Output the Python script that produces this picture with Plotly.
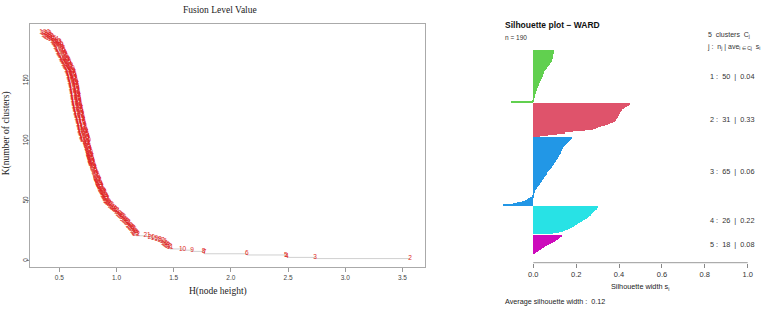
import plotly.graph_objects as go

W, H = 763, 310

# ---------------- Left chart data: fusion levels ----------------
K_clusters = list(range(190, 1, -1))  # number of clusters, 190 .. 2
H_height = [
    0.372, 0.383, 0.390, 0.401, 0.412, 0.428, 0.446, 0.466,               # 190-183
    0.474, 0.478, 0.486, 0.490, 0.493, 0.501, 0.505, 0.508, 0.515, 0.518, 0.524,  # 182-172
    0.530, 0.533, 0.541, 0.545, 0.548, 0.556, 0.559, 0.563, 0.571, 0.574, 0.578,
    0.586, 0.589, 0.593,                                                  # 171-158
    0.597, 0.601, 0.602, 0.606, 0.608, 0.610, 0.614, 0.616, 0.618, 0.622, 0.624,  # 157-147
    0.625, 0.628, 0.629, 0.630, 0.633, 0.634, 0.635, 0.638, 0.639, 0.641, 0.642,
    0.643, 0.646, 0.647, 0.649, 0.650,                                    # 146-131
    0.653, 0.654, 0.657, 0.660, 0.661, 0.664, 0.667, 0.668, 0.671, 0.674, 0.675,
    0.677, 0.681, 0.682, 0.684, 0.688, 0.689, 0.691, 0.695, 0.696, 0.698, 0.702,
    0.703,                                                                # 130-108
    0.707, 0.709, 0.713, 0.717, 0.718, 0.723, 0.727, 0.728, 0.732, 0.737, 0.738,
    0.742, 0.746, 0.748, 0.752, 0.756,                                    # 107-92
    0.757, 0.761, 0.763, 0.765, 0.770, 0.771, 0.773, 0.778, 0.779, 0.782, 0.786,
    0.787, 0.791, 0.794, 0.795, 0.799,                                    # 91-76
    0.804, 0.806, 0.811, 0.816, 0.818, 0.823, 0.829, 0.831, 0.836, 0.841, 0.843,
    0.849, 0.851, 0.856,                                                  # 75-62
    0.862, 0.865, 0.871, 0.877, 0.880, 0.887, 0.890, 0.897, 0.900, 0.907, 0.910,
    0.917, 0.920, 0.927,                                                  # 61-48
    0.936, 0.949, 0.958, 0.971, 0.979, 0.992, 1.001, 1.014,               # 47-40
    1.022, 1.034, 1.042, 1.054, 1.061, 1.073, 1.081, 1.093,               # 39-32
    1.099, 1.110, 1.117, 1.127, 1.134, 1.144, 1.151, 1.160, 1.166, 1.172, # 31-22
    1.267, 1.305, 1.332, 1.362, 1.388, 1.408, 1.418, 1.430, 1.440, 1.452, # 21-12
    1.467, 1.578, 1.660, 1.762, 1.770, 2.140, 2.480, 2.490, 2.735, 3.566, # 11-2
]
assert len(H_height) == len(K_clusters)

x_ticks_left = [0.5, 1.0, 1.5, 2.0, 2.5, 3.0, 3.5]
y_ticks_left = [0, 50, 100, 150]

# ---------------- Right chart data: silhouette widths ----------------
sil_c1 = [0.097, 0.096, 0.095, 0.094, 0.093, 0.092, 0.091, 0.090, 0.089, 0.088,
          0.086, 0.083, 0.080, 0.077, 0.073, 0.070, 0.066, 0.062, 0.058, 0.055,
          0.052, 0.050, 0.047, 0.045, 0.043, 0.041, 0.039, 0.037, 0.034, 0.031,
          0.030, 0.028, 0.026, 0.025, 0.023, 0.021, 0.019, 0.018, 0.016, 0.014,
          0.012, 0.010, 0.008, 0.005, 0.004, 0.003, 0.002, 0.001, -0.005, -0.105]
sil_c2 = [0.451, 0.446, 0.437, 0.430, 0.421, 0.415, 0.412, 0.410, 0.405, 0.402,
          0.399, 0.397, 0.395, 0.392, 0.388, 0.384, 0.381, 0.372, 0.360, 0.350,
          0.335, 0.318, 0.300, 0.292, 0.280, 0.240, 0.186, 0.150, 0.109, 0.070, 0.030]
sil_c3 = [0.179, 0.176, 0.172, 0.168, 0.163, 0.158, 0.153, 0.149, 0.145, 0.140,
          0.137, 0.135, 0.132, 0.130, 0.127, 0.125, 0.122, 0.119, 0.116, 0.113,
          0.110, 0.107, 0.104, 0.101, 0.098, 0.095, 0.092, 0.089, 0.086, 0.082,
          0.078, 0.074, 0.070, 0.066, 0.062, 0.059, 0.055, 0.052, 0.049, 0.045,
          0.042, 0.039, 0.036, 0.032, 0.029, 0.025, 0.022, 0.019, 0.016, 0.013,
          0.010, 0.008, 0.005, 0.003, 0.001, -0.002, -0.008, -0.015, -0.023, -0.031,
          -0.039, -0.055, -0.077, -0.095, -0.143]
sil_c4 = [0.303, 0.299, 0.295, 0.290, 0.285, 0.280, 0.274, 0.268, 0.262, 0.256,
          0.250, 0.242, 0.234, 0.226, 0.218, 0.210, 0.202, 0.195, 0.188, 0.180,
          0.170, 0.160, 0.150, 0.138, 0.120, 0.093]
sil_c5 = [0.132, 0.126, 0.120, 0.114, 0.108, 0.101, 0.092, 0.082, 0.072, 0.064,
          0.056, 0.048, 0.041, 0.034, 0.026, 0.020, 0.014, 0.008]
clusters = [sil_c1, sil_c2, sil_c3, sil_c4, sil_c5]
cluster_sizes = [50, 31, 65, 26, 18]
cluster_avg = ["0.04", "0.33", "0.06", "0.22", "0.08"]
cluster_colors = ["#61D04F", "#DF536B", "#2297E6", "#28E2E5", "#CD0BBC"]
avg_width = "0.12"
x_ticks_right = [0.0, 0.2, 0.4, 0.6, 0.8, 1.0]


def px(x):
    return x / W


def py(y):
    return 1 - y / H


fig = go.Figure()

# ---- left: step line + number labels
fig.add_trace(go.Scatter(
    x=H_height, y=K_clusters, mode="lines", line=dict(color="#d0d0d0", width=1, shape="vh"),
    xaxis="x", yaxis="y", hoverinfo="skip", showlegend=False))
fig.add_trace(go.Scatter(
    x=H_height, y=K_clusters, mode="text", text=[str(k) for k in K_clusters],
    textfont=dict(family="Liberation Sans", size=6.5, color="#e01f22"),
    xaxis="x", yaxis="y", showlegend=False, cliponaxis=False))

# ---- right: silhouette bars
slot = 0
centers = []
for ci, vals in enumerate(clusters):
    pos = list(range(slot, slot + len(vals)))
    centers.append((pos[0] + pos[-1]) / 2)
    fig.add_trace(go.Bar(
        x=vals, y=pos, orientation="h", width=1.0,
        marker=dict(color=cluster_colors[ci], line=dict(width=0)),
        xaxis="x2", yaxis="y2", showlegend=False))
    slot += len(vals) + 1

L_x0, L_x1, L_y0, L_y1 = 30, 425, 24, 267
tickfont_l = dict(family="Liberation Sans", size=6.5, color="#444444")

R_top, R_bot = 50, 262.7
slot_px = (254 - 50) / 194.0
n_slots = (R_bot - R_top) / slot_px

fig.update_layout(
    width=W, height=H, margin=dict(l=0, r=0, t=0, b=0),
    paper_bgcolor="white", plot_bgcolor="white",
    bargap=0, barmode="overlay",
    xaxis=dict(domain=[px(L_x0), px(L_x1)], range=[0.244, 3.697],
               tickvals=x_ticks_left, ticktext=[f"{v:.1f}" for v in x_ticks_left],
               ticks="outside", ticklen=4, tickcolor="#999999", tickfont=tickfont_l,
               showline=True, linecolor="#aaaaaa", linewidth=1, mirror=True,
               showgrid=False, zeroline=False, anchor="y"),
    yaxis=dict(domain=[py(L_y1), py(L_y0)], range=[-5.0, 197.2],
               tickvals=y_ticks_left, ticktext=[str(v) for v in y_ticks_left],
               tickangle=-90, ticks="outside", ticklen=3, tickcolor="#999999",
               tickfont=tickfont_l, ticklabelstandoff=-5,
               showline=True, linecolor="#aaaaaa", linewidth=1, mirror=True,
               showgrid=False, zeroline=False, anchor="x"),
    xaxis2=dict(domain=[px(500), px(760)], range=[(500 - 533.3) / 214.4, (760 - 533.3) / 214.4],
                tickvals=x_ticks_right, ticktext=[f"{v:.1f}" for v in x_ticks_right],
                ticks="outside", ticklen=4, tickcolor="#888888",
                tickfont=dict(family="Liberation Sans", size=7.5, color="#333333"),
                showline=False, showgrid=False, zeroline=False, anchor="y2"),
    yaxis2=dict(domain=[py(R_bot), py(R_top)], range=[n_slots - 0.5, -0.5],
                visible=False, anchor="x2"),
)

# axis line of the silhouette plot (from 0 to 1)
fig.add_shape(type="line", xref="x2", yref="paper", x0=0, x1=1, y0=py(R_bot), y1=py(R_bot),
              line=dict(color="#999999", width=1))

serif = "Liberation Serif"
sans = "Liberation Sans"
ann = [
    dict(text="Fusion Level Value", x=px(220), y=py(10), font=dict(family=serif, size=9.5, color="#222")),
    dict(text="H(node height)", x=px(218), y=py(291.5), font=dict(family=serif, size=9.5, color="#222")),
    dict(text="K(number of clusters)", x=px(7.3), y=py(133), textangle=-90,
         font=dict(family=serif, size=9.5, color="#222")),
    dict(text="<b>Silhouette plot \u2212 WARD</b>", x=px(502.7), y=py(25), xanchor="left",
         font=dict(family=sans, size=8.5, color="#111")),
    dict(text="n = 190", x=px(503), y=py(37.7), xanchor="left",
         font=dict(family=sans, size=6.5, color="#333")),
    dict(text="5\u00a0 clusters\u00a0 C<sub>j</sub>", x=px(706), y=py(35.5), xanchor="left",
         font=dict(family=sans, size=7, color="#333")),
    dict(text="j :\u00a0 n<sub>j</sub> | ave<sub>i \u2208 Cj</sub>\u00a0 s<sub>i</sub>", x=px(705), y=py(47),
         xanchor="left", font=dict(family=sans, size=7, color="#333")),
    dict(text="Silhouette width s<sub>i</sub>", x=px(640), y=py(286.7),
         font=dict(family=sans, size=7.3, color="#222")),
    dict(text=f"Average silhouette width :\u00a0 {avg_width}", x=px(502.7), y=py(301.7), xanchor="left",
         font=dict(family=sans, size=7.2, color="#222")),
]
for a in ann:
    base = dict(xref="paper", yref="paper", showarrow=False, xanchor="center", yanchor="middle")
    base.update(a)
    fig.add_annotation(**base)

for j in range(5):
    fig.add_annotation(
        text=f"{j + 1} :\u00a0 {cluster_sizes[j]}\u00a0 |\u00a0 {cluster_avg[j]}",
        xref="paper", yref="y2", x=px(756.7), y=centers[j], xanchor="right", yanchor="middle",
        showarrow=False, font=dict(family=sans, size=7.3, color="#333"))

fig.write_html("out.html", config={"displayModeBar": False},
               post_script="document.body.style.margin='0';document.body.style.overflow='hidden';")
